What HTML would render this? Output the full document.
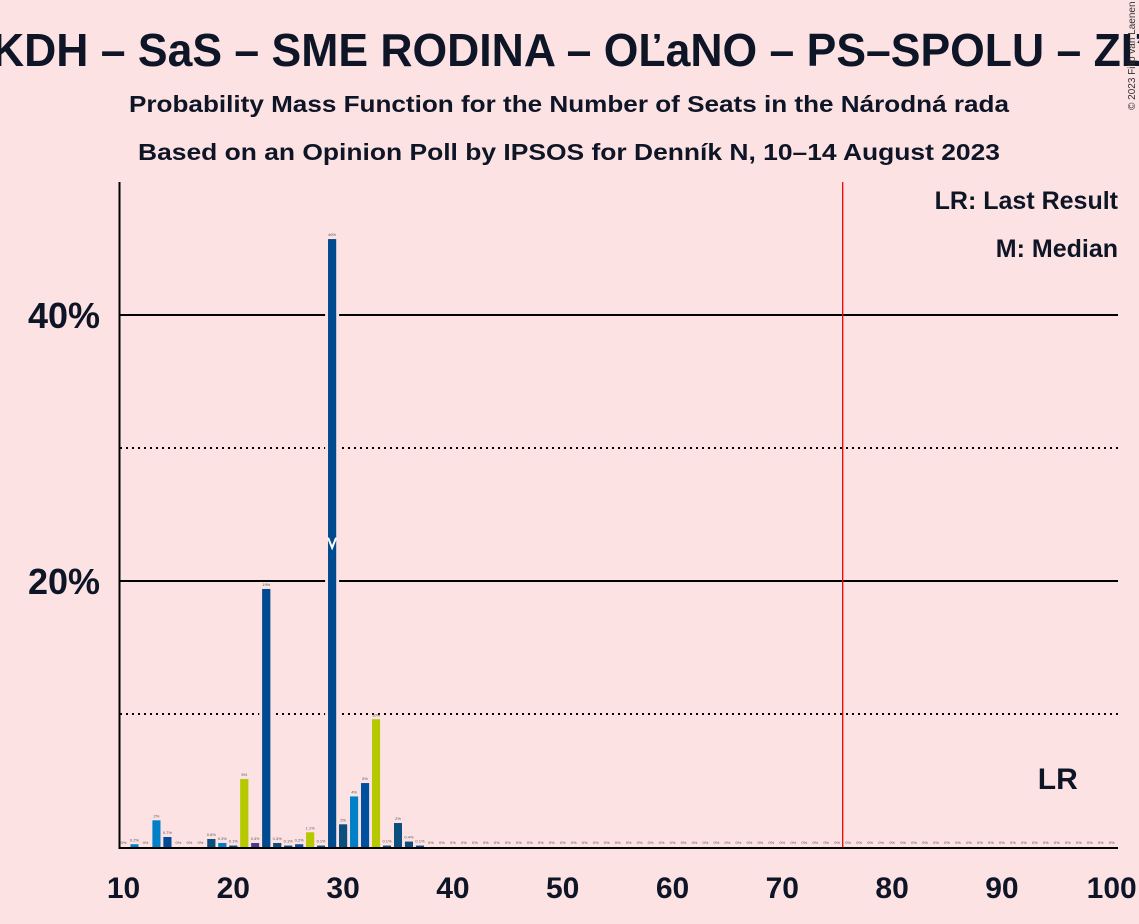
<!DOCTYPE html>
<html><head><meta charset="utf-8"><style>
body{margin:0;background:#fde2e3;}
svg{display:block;font-family:"Liberation Sans",sans-serif;}
</style></head><body>
<svg id="chart" width="1139" height="924" viewBox="0 0 1139 924" xmlns="http://www.w3.org/2000/svg">
<rect width="1139" height="924" fill="#fde2e3"/>
<text x="-8" y="66" font-size="46" font-weight="bold" fill="#0d1526" textLength="1156" lengthAdjust="spacingAndGlyphs">KDH – SaS – SME RODINA – OĽaNO – PS–SPOLU – ZĽ</text>
<text x="569" y="112" font-size="23" font-weight="bold" fill="#0d1526" text-anchor="middle" textLength="880" lengthAdjust="spacingAndGlyphs">Probability Mass Function for the Number of Seats in the Národná rada</text>
<text x="569" y="160" font-size="23" font-weight="bold" fill="#0d1526" text-anchor="middle" textLength="862" lengthAdjust="spacingAndGlyphs">Based on an Opinion Poll by IPSOS for Denník N, 10–14 August 2023</text>
<text transform="translate(1135,110) rotate(-90)" font-size="10" fill="#333">© 2023 Filip van Laenen</text>
<g id="grid"></g>
<g id="bars"></g>
<g id="axes"></g>
<text x="1118" y="209" font-size="25" font-weight="bold" fill="#0d1526" text-anchor="end">LR: Last Result</text>
<text x="1118" y="257" font-size="25" font-weight="bold" fill="#0d1526" text-anchor="end">M: Median</text>
</svg>
<script>
const seats = [];
for (let s = 10; s <= 100; s++) seats.push(s);
const values = [0,0.2,0,2.0,0.75,0,0,0,0.6,0.3,0.1,5.1,0.3,19.4,0.3,0.1,0.2,1.1,0.1,45.7,1.7,3.8,4.8,9.6,0.1,1.8,0.4,0.1];
const labels = ["0%","0.2%","0%","2%","0.7%","0%","0%","0%","0.6%","0.3%","0.1%","5%","0.3%","19%","0.3%","0.1%","0.2%","1.1%","0.1%","46%","2%","4%","5%","10%","0.1%","2%","0.4%","0.1%"];
const colors = ["#0b4f7f","#0080c8","#0b4f7f","#0080c8","#004a98","#0b4f7f","#0b4f7f","#0b4f7f","#0b4f7f","#0080c8","#0b4f7f","#b5c800","#4b3a8f","#004a8f","#0b4f7f","#0b4f7f","#0050a0","#b5c800","#0b4f7f","#004a8f","#0b4f7f","#0080c8","#0050a0","#b5c800","#0b4f7f","#0b4f7f","#0b4f7f","#0b4f7f"];
const xTicks = [10,20,30,40,50,60,70,80,90,100];
const yMajor = [20,40];
const yMinor = [10,30];
const median = 29;
const medianMarkerLevel = 22.5;
const lastResult = 95;
const majority = 75.5;

const NS="http://www.w3.org/2000/svg";
const X = s => 123.5 + (s-10)*10.98;
const Y = v => 847 - v*13.3;
function mk(tag, attrs, parent){const e=document.createElementNS(NS,tag);for(const k in attrs)e.setAttribute(k,attrs[k]);parent.appendChild(e);return e;}
const grid=document.getElementById('grid'), bars=document.getElementById('bars'), axes=document.getElementById('axes');
yMajor.forEach(v=>{const l=mk('line',{x1:120,x2:1118,y1:Y(v),y2:Y(v),stroke:'#000','stroke-width':2},grid);


const t=mk('text',{x:100,y:Y(v)+13,'font-size':36,'font-weight':'bold','text-anchor':'end',fill:'#0d1526'},axes);t.textContent=v+'%';

});
yMinor.forEach(v=>{const l=mk('line',{x1:120,x2:1118,y1:Y(v),y2:Y(v),stroke:'#000','stroke-width':2,'stroke-dasharray':'2,4'},grid);

});
seats.forEach((s,i)=>{const v=values[i]||0;const x=X(s);
if(v>0){const r=mk('rect',{x:x-4,y:Y(v),width:8,height:847-Y(v),fill:colors[i]||'#0b4f7f',stroke:'#fde2e3','stroke-width':v>10?6:0,'paint-order':'stroke'},bars);


const r2=mk('rect',{x:x-4,y:Y(v),width:8,height:847-Y(v),fill:colors[i]||'#0b4f7f'},bars);

}
const t=mk('text',{x:x,y:Y(v)-3,'font-size':4,'text-anchor':'middle',fill:'#555'},bars);t.textContent=labels[i]||'0%';

});
const mx=X(median);
const m=mk('polyline',{points:`${mx-4},${Y(medianMarkerLevel)-10} ${mx},${Y(medianMarkerLevel)} ${mx+4},${Y(medianMarkerLevel)-10}`,fill:'none',stroke:'#fff','stroke-width':2},bars);


const red=mk('line',{x1:X(majority),x2:X(majority),y1:182,y2:849,stroke:'#e00','stroke-width':1.3},axes);


const ya=mk('line',{x1:119.5,x2:119.5,y1:182,y2:849,stroke:'#000','stroke-width':2},axes);


const xa=mk('line',{x1:119,x2:1118,y1:848,y2:848,stroke:'#000','stroke-width':2},axes);


xTicks.forEach(s=>{const t=mk('text',{x:X(s),y:898,'font-size':30,'font-weight':'bold','text-anchor':'middle',fill:'#0d1526'},axes);t.textContent=s;

});
const lr=mk('text',{x:X(lastResult)+1,y:789,'font-size':30,'font-weight':'bold','text-anchor':'middle',fill:'#0d1526'},axes);lr.textContent='LR';


</script>
</body></html>
